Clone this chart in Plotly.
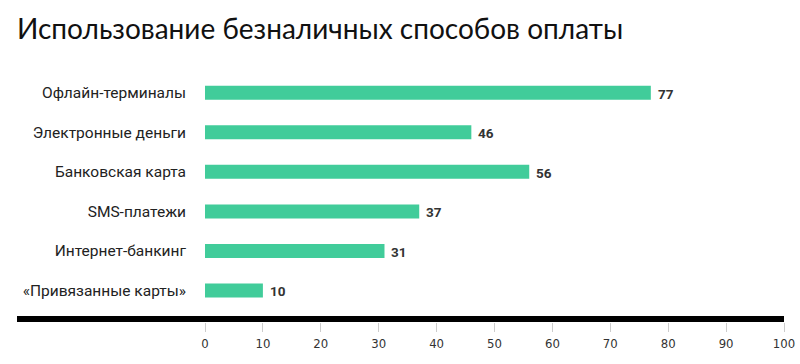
import plotly.graph_objects as go

title = "Использование безналичных способов оплаты"
categories = ["Офлайн-терминалы", "Электронные деньги", "Банковская карта",
              "SMS-платежи", "Интернет-банкинг", "«Привязанные карты»"]
values = [77, 46, 56, 37, 31, 10]
x_ticks = [0, 10, 20, 30, 40, 50, 60, 70, 80, 90, 100]

fig = go.Figure(go.Bar(
    x=values, y=categories, orientation="h",
    marker=dict(color="#41CC9A", line=dict(width=0)),
    width=0.354,
))

for v, c in zip(values, categories):
    fig.add_annotation(x=v, y=c, text=str(v), showarrow=False, xanchor="left",
                       xshift=5, yshift=-1,
                       font=dict(family="Roboto", size=13.5, color="#333333", weight="bold"))

fig.update_layout(
    width=800, height=364,
    margin=dict(l=205, r=16, t=73, b=42, autoexpand=False),
    paper_bgcolor="white", plot_bgcolor="white",
    showlegend=False,
    title=dict(text=title, x=17/800, xanchor="left", xref="container",
               y=1 - 29/364, yanchor="middle",
               font=dict(family="Lato", size=28, color="#111111")),
    xaxis=dict(range=[0, 100], tickvals=x_ticks, showgrid=False, zeroline=False,
               showline=False, ticks="outside", ticklen=9, tickcolor="#cccccc",
               tickwidth=1, automargin=False,
               tickfont=dict(family="Liberation Sans Narrow, DejaVu Sans Condensed, Roboto",
                             size=13, color="#333333")),
    yaxis=dict(categoryorder="array", categoryarray=categories,
               range=[5.797, -0.5], showgrid=False, zeroline=False, showline=False,
               ticks="", ticklabelstandoff=18, automargin=False,
               tickfont=dict(family="Roboto", size=15.5, color="#222222")),
    shapes=[dict(type="line", xref="paper", yref="paper",
                 x0=(17 - 205) / 579, x1=1, y0=3 / 249, y1=3 / 249,
                 line=dict(color="black", width=6), layer="above")],
)

fig.write_html("out.html", config={"displayModeBar": False},
               post_script="document.body.style.margin='0';")
